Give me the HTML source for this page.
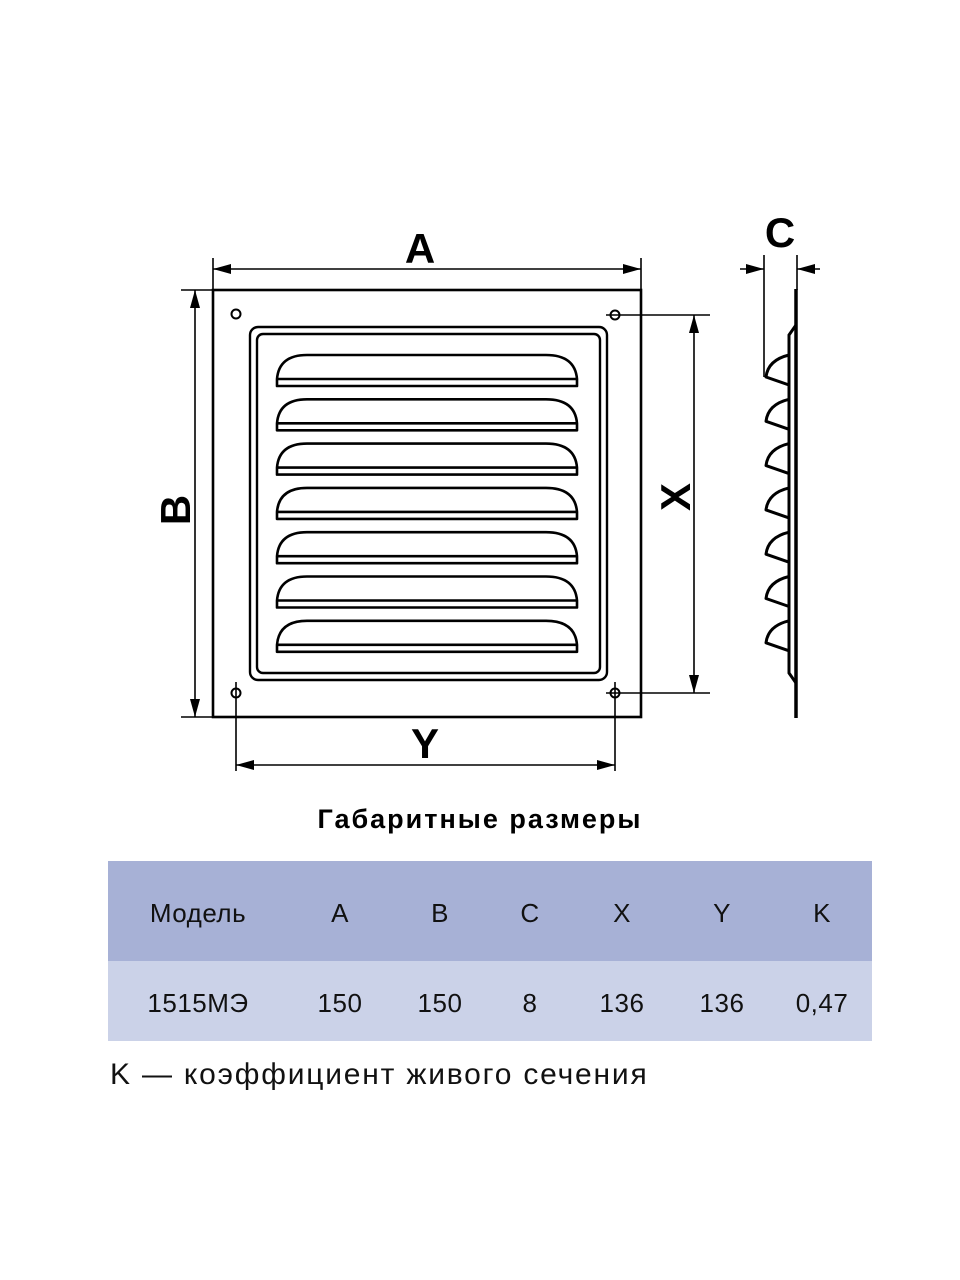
<!DOCTYPE html>
<html><head><meta charset="utf-8"><style>
html,body{margin:0;padding:0;background:#fff;width:960px;height:1280px;overflow:hidden}
svg{position:absolute;left:0;top:0}
text{font-family:"Liberation Sans",sans-serif}
</style></head><body>
<svg width="960" height="1280" viewBox="0 0 960 1280" xmlns="http://www.w3.org/2000/svg">
<defs>
<marker id="ar" viewBox="0 0 18 10" refX="18" refY="5" markerWidth="18" markerHeight="10" markerUnits="userSpaceOnUse" orient="auto-start-reverse"><path d="M0,0 L18,5 L0,10 Z" fill="#000"/></marker>
<g id="lv"><path d="M277,386 L277,379 Q279,355 307,355 L546,355 Q575,355 577,379 L577,386 Z M277,379 L577,379" fill="none" stroke="#000" stroke-width="2.6" stroke-linejoin="round"/></g>
<g id="sl"><path d="M789,355 Q768,360 766,377 L789,385" fill="none" stroke="#000" stroke-width="3" stroke-linejoin="round"/></g>
</defs>
<rect x="213" y="290" width="428" height="427" fill="none" stroke="#000" stroke-width="2.6"/>
<rect x="250" y="327" width="357" height="353" rx="8" fill="none" stroke="#000" stroke-width="2.4"/>
<rect x="257" y="334" width="343" height="339" rx="6" fill="none" stroke="#000" stroke-width="2.4"/>
<use href="#lv"/>
<use href="#lv" transform="translate(0,44.3)"/>
<use href="#lv" transform="translate(0,88.6)"/>
<use href="#lv" transform="translate(0,132.9)"/>
<use href="#lv" transform="translate(0,177.2)"/>
<use href="#lv" transform="translate(0,221.5)"/>
<use href="#lv" transform="translate(0,265.8)"/>
<g fill="none" stroke="#000" stroke-width="2">
<circle cx="236" cy="314" r="4.5"/><circle cx="615" cy="315" r="4.5"/>
<circle cx="236" cy="693" r="4.5"/><circle cx="615" cy="693" r="4.5"/>
</g>
<g stroke="#000" stroke-width="1.6" fill="none">
<line x1="213" y1="258" x2="213" y2="290"/><line x1="641" y1="258" x2="641" y2="290"/>
<line x1="213" y1="269" x2="641" y2="269" marker-start="url(#ar)" marker-end="url(#ar)"/>
<line x1="181" y1="290" x2="213" y2="290"/><line x1="181" y1="717" x2="213" y2="717"/>
<line x1="195" y1="290" x2="195" y2="717" marker-start="url(#ar)" marker-end="url(#ar)"/>
<line x1="606" y1="315" x2="710" y2="315"/><line x1="606" y1="693" x2="710" y2="693"/>
<line x1="694" y1="315" x2="694" y2="693" marker-start="url(#ar)" marker-end="url(#ar)"/>
<line x1="236" y1="682" x2="236" y2="771"/><line x1="615" y1="682" x2="615" y2="771"/>
<line x1="236" y1="765" x2="615" y2="765" marker-start="url(#ar)" marker-end="url(#ar)"/>
<line x1="764" y1="255" x2="764" y2="377"/><line x1="797" y1="255" x2="797" y2="290"/>
<line x1="740" y1="269" x2="764" y2="269" marker-end="url(#ar)"/>
<line x1="820" y1="269" x2="797" y2="269" marker-end="url(#ar)"/>
</g>
<path d="M796,289 L796,718" stroke="#000" stroke-width="3.5"/>
<path d="M796,325 L789,335 L789,673 L796,683" fill="none" stroke="#000" stroke-width="3"/>
<use href="#sl"/>
<use href="#sl" transform="translate(0,44.3)"/>
<use href="#sl" transform="translate(0,88.6)"/>
<use href="#sl" transform="translate(0,132.9)"/>
<use href="#sl" transform="translate(0,177.2)"/>
<use href="#sl" transform="translate(0,221.5)"/>
<use href="#sl" transform="translate(0,265.8)"/>
<g font-weight="bold" font-size="42" text-anchor="middle">
<text x="420" y="263">A</text>
<text x="425" y="758">Y</text>
<text x="780" y="247">C</text>
<text transform="translate(190,510) rotate(-90)">B</text>
<text transform="translate(690,497) rotate(-90)">X</text>
</g>
<text x="480" y="828" font-size="27" font-weight="bold" letter-spacing="2" text-anchor="middle">Габаритные размеры</text>
<rect x="108" y="861" width="764" height="100" fill="#a7b1d6"/>
<rect x="108" y="961" width="764" height="80" fill="#cbd2e8"/>
<g font-size="26" text-anchor="middle" fill="#111" letter-spacing="0.5">
<text x="198" y="922">Модель</text><text x="340" y="922">A</text><text x="440" y="922">B</text><text x="530" y="922">C</text><text x="622" y="922">X</text><text x="722" y="922">Y</text><text x="822" y="922">K</text>
<text x="198" y="1012">1515МЭ</text><text x="340" y="1012">150</text><text x="440" y="1012">150</text><text x="530" y="1012">8</text><text x="622" y="1012">136</text><text x="722" y="1012">136</text><text x="822" y="1012">0,47</text>
</g>
<text x="110" y="1084" font-size="30" fill="#111" letter-spacing="1.8">K — коэффициент живого сечения</text>
</svg>
</body></html>
